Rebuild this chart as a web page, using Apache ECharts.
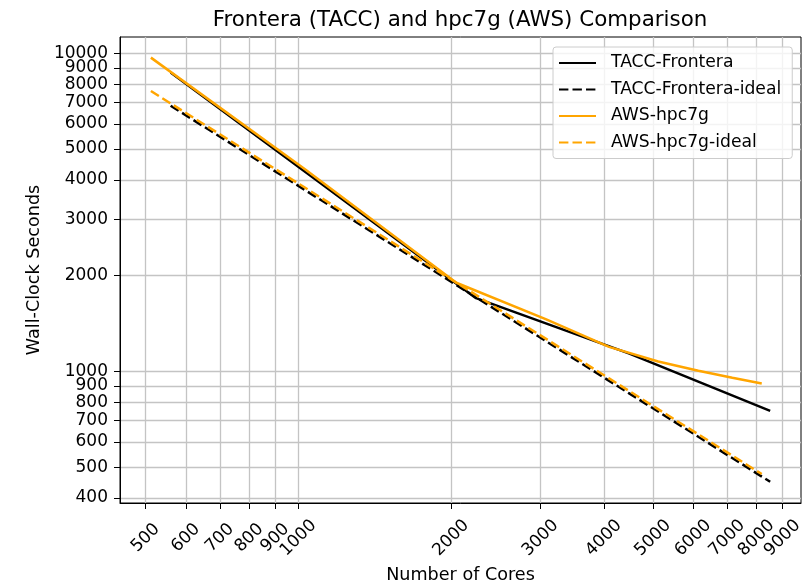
<!DOCTYPE html>
<html>
<head>
<meta charset="utf-8">
<script src="https://cdn.jsdelivr.net/npm/echarts@6/dist/echarts.min.js"></script>
<style>
html, body { margin: 0; padding: 0; background: #fff; }
#chart { width: 810px; height: 583px; }
</style>
</head>
<body>
<div id="chart"></div>
<script>
// ---- data ----
const taccCores = [560, 1120, 2240, 4480, 8512];
const taccTime = [8700, 3850, 1700, 1140, 752];
const taccIdeal = [6840, 3420, 1710, 855, 450];

const awsCores = [512, 1024, 2048, 3072, 4096, 5120, 6144, 7168, 8192];
const awsTime = [9690, 4350, 1900, 1460, 1195, 1075, 1005, 955, 917];
const awsIdealCores = [512, 1024, 2048, 4096, 8192];
const awsIdeal = [7610, 3805, 1902, 951, 476];

const xTicks = [500, 600, 700, 800, 900, 1000, 2000, 3000, 4000, 5000, 6000, 7000, 8000, 9000];
const yTicks = [400, 500, 600, 700, 800, 900, 1000, 2000, 3000, 4000, 5000, 6000, 7000, 8000, 9000, 10000];

const seriesNames = ['TACC-Frontera', 'TACC-Frontera-ideal', 'AWS-hpc7g', 'AWS-hpc7g-ideal'];

const X_MIN = 445, X_MAX = 9790, Y_MIN = 386, Y_MAX = 11250;

function pairs(xs, ys) { return xs.map((x, i) => [x, ys[i]]); }
// labels: the real ticks plus blank guards at the axis ends so that no real label is treated as the end label
function labelFmt(ticks) {
  return v => ticks.indexOf(Math.round(v)) >= 0 ? String(Math.round(v)) : '';
}

const FONT = 'DejaVu Sans';
const chart = echarts.init(document.getElementById('chart'), null, { renderer: 'canvas' });

const option = {
  animation: false,
  backgroundColor: '#ffffff',
  textStyle: { fontFamily: FONT },
  title: {
    text: 'Frontera (TACC) and hpc7g (AWS) Comparison',
    left: 455,
    top: 5,
    textAlign: 'center',
    textStyle: { fontFamily: FONT, fontSize: 21.4, fontWeight: 'normal', color: '#000' }
  },
  grid: {
    left: 120, right: 9, top: 37, bottom: 80,
    show: true, borderColor: '#000', borderWidth: 1, backgroundColor: 'transparent',
    containLabel: false,
    outerBoundsMode: 'none'
  },
  legend: {
    orient: 'vertical',
    left: 553, top: 47,
    padding: [7, 11, 7, 5],
    itemWidth: 37, itemHeight: 14, itemGap: 8.5,
    backgroundColor: 'rgba(255,255,255,0.8)',
    borderColor: '#cccccc', borderWidth: 1, borderRadius: 3,
    itemStyle: { opacity: 0, color: 'rgba(0,0,0,0)', borderWidth: 0 },
    data: seriesNames,
    textStyle: { fontFamily: FONT, fontSize: 17.2, color: '#000', lineHeight: 18, padding: [0, 0, 0, 10] }
  },
  xAxis: {
    type: 'log', logBase: 10,
    min: X_MIN, max: X_MAX,
    name: 'Number of Cores', nameLocation: 'middle', nameGap: 63,
    nameTextStyle: { fontFamily: FONT, fontSize: 17.6, color: '#000' },
    axisLine: { show: true, lineStyle: { color: '#000', width: 1 } },
    axisTick: { show: true, inside: false, length: 6, lineStyle: { color: '#000', width: 1 }, customValues: xTicks },
    axisLabel: {
      customValues: xTicks, rotate: 45, margin: 35,
      align: 'center', verticalAlign: 'middle', lineHeight: 12,
      showMinLabel: true, showMaxLabel: true, hideOverlap: false,
      fontFamily: FONT, fontSize: 17, color: '#000',
      formatter: labelFmt(xTicks)
    },
    splitLine: { show: true, lineStyle: { color: '#c4c4c4', width: 1.3 } },
    minorTick: { show: false }, minorSplitLine: { show: false }
  },
  yAxis: {
    type: 'log', logBase: 10,
    min: Y_MIN, max: Y_MAX,
    name: 'Wall-Clock Seconds', nameLocation: 'middle', nameGap: 76,
    nameTextStyle: { fontFamily: FONT, fontSize: 17.6, color: '#000' },
    axisLine: { show: true, lineStyle: { color: '#000', width: 1 } },
    axisTick: { show: true, inside: false, length: 6, lineStyle: { color: '#000', width: 1 }, customValues: yTicks },
    axisLabel: {
      customValues: [Y_MIN + 1].concat(yTicks, [Y_MAX - 10]), margin: 12, lineHeight: 12,
      showMinLabel: true, showMaxLabel: true, hideOverlap: false,
      fontFamily: FONT, fontSize: 17, color: '#000',
      formatter: labelFmt(yTicks)
    },
    splitLine: { show: true, lineStyle: { color: '#c4c4c4', width: 1.3 } },
    minorTick: { show: false }, minorSplitLine: { show: false }
  },
  series: [
    {
      name: seriesNames[0], type: 'line', symbol: 'none', showSymbol: false,
      data: pairs(taccCores, taccTime),
      lineStyle: { color: '#000000', width: 2.5 }, itemStyle: { color: '#000000' }
    },
    {
      name: seriesNames[1], type: 'line', symbol: 'none', showSymbol: false,
      data: pairs(taccCores, taccIdeal),
      lineStyle: { color: '#000000', width: 2.5, type: [9.4, 4.1] }, itemStyle: { color: '#000000' }
    },
    {
      name: seriesNames[2], type: 'line', symbol: 'none', showSymbol: false,
      data: pairs(awsCores, awsTime),
      lineStyle: { color: '#ffa500', width: 2.5 }, itemStyle: { color: '#ffa500' }
    },
    {
      name: seriesNames[3], type: 'line', symbol: 'none', showSymbol: false,
      data: pairs(awsIdealCores, awsIdeal),
      lineStyle: { color: '#ffa500', width: 2.5, type: [9.4, 4.1] }, itemStyle: { color: '#ffa500' }
    }
  ]
};
chart.setOption(option);
</script>
</body>
</html>
